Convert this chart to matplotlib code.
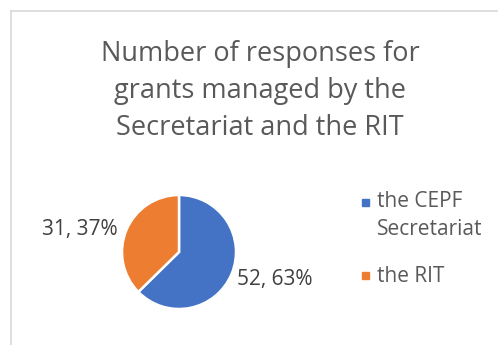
import matplotlib
matplotlib.use("Agg")
import matplotlib.pyplot as plt
from matplotlib.lines import Line2D

plt.rcParams['font.family'] = ['Open Sans', 'DejaVu Sans']

# Survey responses by who manages the grant
categories = ['the CEPF\nSecretariat', 'the RIT']
responses = [52, 31]
colors = ['#4472C4', '#ED7D31']
title = 'Number of responses for\ngrants managed by the\nSecretariat and the RIT'

W, H = 498, 345
fig = plt.figure(figsize=(W / 100, H / 100), dpi=100)
fig.patch.set_facecolor('white')

def px(x, y):
    return x / W, 1 - y / H

# chart frame (left and top edges only show)
fig.add_artist(Line2D([11 / W, 11 / W], [0, 1 - 11 / H], color='#d9d9d9', lw=1.2))
fig.add_artist(Line2D([11 / W, 1], [1 - 11 / H, 1 - 11 / H], color='#d9d9d9', lw=1.2))

fig.text(*px(260, 91), title, ha='center', va='center', fontsize=19.5,
         color='#595959', linespacing=1.42)

# pie
cx, cy, r = 179, 252, 57
ax = fig.add_axes([(cx - r) / W, 1 - (cy + r) / H, 2 * r / W, 2 * r / H])
wedges, _ = ax.pie(responses, colors=colors, startangle=90, counterclock=False,
                   wedgeprops=dict(edgecolor='white', linewidth=1.8))
ax.set_xlim(-1, 1)
ax.set_ylim(-1, 1)
ax.set_aspect('equal')
ax.axis('off')

total = sum(responses)
labels = [f'{v}, {round(100 * v / total)}%' for v in responses]
fig.text(*px(237, 279), labels[0], ha='left', va='center', fontsize=15, color='#404040')
fig.text(*px(118, 230), labels[1], ha='right', va='center', fontsize=15, color='#404040')

# legend: square marker plus one text per line
legend_rows = [(202, [207, 235]), (275, [282])]
for (sq_y, baselines), name, c in zip(legend_rows, categories, colors):
    fig.patches.append(plt.Rectangle(px(362, sq_y + 3.5), 7 / W, 7 / H,
                                     transform=fig.transFigure, color=c))
    for line, base_y in zip(name.split('\n'), baselines):
        fig.text(*px(377, base_y), line, ha='left', va='baseline', fontsize=15,
                 color='#595959')

fig.savefig('out.png', dpi=100)
